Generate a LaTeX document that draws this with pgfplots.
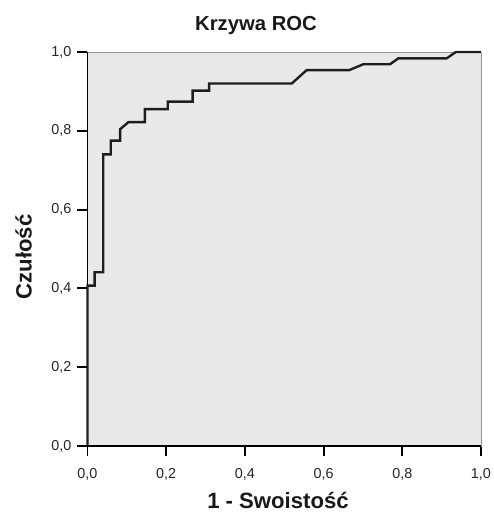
\documentclass[border=0pt]{standalone}
\usepackage{pgfplots}
\pgfplotsset{compat=1.18}
\usepackage{fontspec}
\setmainfont{Liberation Sans}
\definecolor{bggray}{RGB}{233,233,233}
\definecolor{framegray}{RGB}{150,150,150}
\definecolor{curve}{RGB}{30,30,30}
\begin{document}
\begin{tikzpicture}
\begin{axis}[
  name=ax,
  at={(0,0)}, anchor=south west,
  scale only axis,
  width=295.125pt, height=295.5pt,
  xmin=0, xmax=1, ymin=0, ymax=1,
  xtick={0,0.2,0.4,0.6,0.8,1},
  ytick={0,0.2,0.4,0.6,0.8,1},
  xtick pos=bottom, ytick pos=left,
  tick align=outside,
  major tick length=7.5pt,
  tick style={black, line width=1.4pt},
  axis line style={framegray, line width=0.7pt},
  axis background/.style={fill=bggray},
  /pgf/number format/.cd, use comma, fixed, fixed zerofill, precision=1, assume math mode=true,
  /pgfplots/.cd,
  tick label style={font=\fontsize{10.8}{13}\selectfont, text=black!85},
  xticklabel style={yshift=-5.5pt},
  yticklabel style={xshift=-1pt},
  clip=false,
]
\draw[black, line width=1.4pt] (rel axis cs:0,1) -- (rel axis cs:0,0) -- (rel axis cs:1,0);
\addplot[curve, line width=1.8pt, line join=miter] coordinates {
(0,0) (0,0.407) (0.018,0.407) (0.018,0.441) (0.040,0.441) (0.040,0.740)
(0.059,0.740) (0.059,0.775) (0.083,0.775) (0.083,0.804) (0.104,0.822)
(0.146,0.822) (0.146,0.855) (0.204,0.855) (0.204,0.874) (0.267,0.874)
(0.267,0.902) (0.309,0.902) (0.309,0.920) (0.519,0.920) (0.557,0.954)
(0.665,0.954) (0.701,0.969) (0.769,0.969) (0.790,0.984) (0.913,0.984)
(0.936,1.0) (1,1)
};
\end{axis}
\begin{scope}[x=0.75pt, y=-0.75pt, shift={(-65.625pt,334.5pt)}]
\node[anchor=base, font=\bfseries\fontsize{15.2}{18}\selectfont, text=black!90] at (256,30) {Krzywa ROC};
\node[anchor=base, font=\bfseries\fontsize{16.6}{20}\selectfont, text=black!90] at (278,508) {1 - Swoistość};
\node[anchor=base, rotate=90, font=\bfseries\fontsize{16.6}{20}\selectfont, text=black!90] at (31.7,257) {Czułość};
\end{scope}
\pgfresetboundingbox
\path (-65.625pt,-49.5pt) rectangle ++(370.5pt,384pt);
\end{tikzpicture}
\end{document}
